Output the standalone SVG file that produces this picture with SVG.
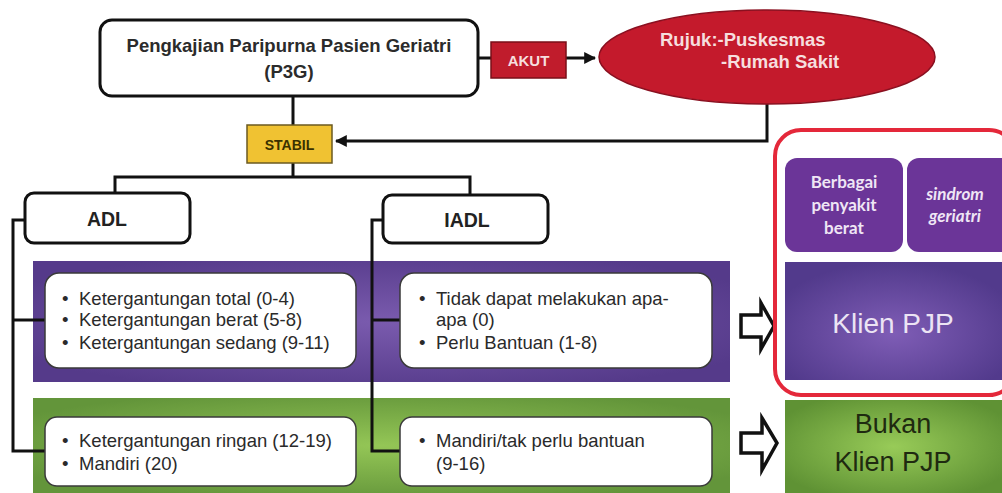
<svg xmlns="http://www.w3.org/2000/svg" width="1002" height="493" viewBox="0 0 1002 493">
<defs>
<style>
.ln{fill:none;stroke:#111;stroke-width:3}
.t{font-family:"Liberation Sans",Arial,sans-serif}
.b{font-weight:bold}
.item{font-family:"Liberation Sans",Arial,sans-serif;font-size:18.5px;fill:#2a2a2a}
.wbox{fill:#fff;stroke:#3a3a3a;stroke-width:1.5}
.cal{font-family:Lato,"Open Sans",sans-serif;font-size:17px;font-weight:bold;fill:#efe6f5;text-anchor:middle}
.harrow{fill:#fff;stroke:#111;stroke-width:3.5;stroke-linejoin:miter}
</style>
<marker id="ah" viewBox="0 0 10 10" refX="9" refY="5" markerWidth="4" markerHeight="4" orient="auto"><path d="M0,0L10,5L0,10z" fill="#111"/></marker>
<radialGradient id="pg" cx="50%" cy="50%" r="60%"><stop offset="0" stop-color="#7a5bae"/><stop offset="1" stop-color="#553a8a"/></radialGradient>
<radialGradient id="gg" cx="50%" cy="50%" r="60%"><stop offset="0" stop-color="#94c656"/><stop offset="1" stop-color="#63953a"/></radialGradient>
<radialGradient id="kg" cx="50%" cy="60%" r="60%"><stop offset="0" stop-color="#7f5db6"/><stop offset="1" stop-color="#523a8c"/></radialGradient>
<radialGradient id="bg" cx="50%" cy="50%" r="60%"><stop offset="0" stop-color="#98cb58"/><stop offset="1" stop-color="#5f9234"/></radialGradient>
</defs>
<rect width="1002" height="493" fill="#fff"/>

<g id="band-purple"><rect x="33" y="261" width="697" height="121" fill="url(#pg)"/></g>
<g id="band-green"><rect x="33" y="398" width="697" height="95" fill="url(#gg)"/></g>

<g id="connectors">
<path class="ln" d="M478,58H491"/>
<path class="ln" d="M566,58H595" marker-end="url(#ah)"/>
<path class="ln" d="M767,103V141H336" marker-end="url(#ah)"/>
<path class="ln" d="M293,96V125"/>
<path class="ln" d="M293,163V177"/>
<path class="ln" d="M115,193V177H470V195"/>
<path class="ln" d="M25,220H13V451H45"/>
<path class="ln" d="M13,320H45"/>
<path class="ln" d="M383,220H372V451H400"/>
<path class="ln" d="M372,320H400"/>
</g>

<g id="p3g">
<rect x="100" y="20" width="378" height="76" rx="12" fill="#fff" stroke="#111" stroke-width="3"/>
<text class="t b" x="289" y="52" font-size="18.5" fill="#2b2b2b" text-anchor="middle">Pengkajian Paripurna Pasien Geriatri</text>
<text class="t b" x="289" y="78" font-size="18.5" fill="#2b2b2b" text-anchor="middle">(P3G)</text>
</g>

<g id="akut">
<rect x="491" y="42" width="75" height="36" fill="#c01c2c" stroke="#7a0f18" stroke-width="1.5"/>
<text class="t b" x="528.5" y="66" font-size="15" fill="#f6dede" text-anchor="middle">AKUT</text>
</g>

<g id="rujuk">
<ellipse cx="767" cy="57" rx="168" ry="47" fill="#c41a2c" stroke="#8a1020" stroke-width="1.5"/>
<text class="t b" x="660" y="46" font-size="18.5" fill="#f6dede">Rujuk:-Puskesmas</text>
<text class="t b" x="721" y="68" font-size="18.5" fill="#f6dede">-Rumah Sakit</text>
</g>

<g id="stabil">
<rect x="247" y="125" width="85" height="38" fill="#f0c232" stroke="#6b5a20" stroke-width="1.5"/>
<text class="t b" x="289.5" y="150" font-size="14" fill="#3a3000" text-anchor="middle">STABIL</text>
</g>

<g id="adl">
<rect x="25" y="193" width="165" height="50" rx="9" fill="#fff" stroke="#111" stroke-width="3"/>
<text class="t b" x="107" y="226" font-size="19.5" fill="#222" text-anchor="middle">ADL</text>
</g>
<g id="iadl">
<rect x="383" y="195" width="165" height="48" rx="9" fill="#fff" stroke="#111" stroke-width="3"/>
<text class="t b" x="467" y="227" font-size="19.5" fill="#222" text-anchor="middle">IADL</text>
</g>

<g id="adl-berat">
<rect class="wbox" x="45" y="273" width="311" height="95" rx="14"/>
<text class="item" x="62" y="305">•</text><text class="item" x="79" y="305">Ketergantungan total (0-4)</text>
<text class="item" x="62" y="326">•</text><text class="item" x="79" y="326">Ketergantungan berat (5-8)</text>
<text class="item" x="62" y="349">•</text><text class="item" x="79" y="349">Ketergantungan sedang (9-11)</text>
</g>
<g id="iadl-berat">
<rect class="wbox" x="400" y="273" width="312" height="95" rx="14"/>
<text class="item" x="419" y="305">•</text><text class="item" x="436" y="305">Tidak dapat melakukan apa-</text>
<text class="item" x="436" y="326">apa (0)</text>
<text class="item" x="419" y="349">•</text><text class="item" x="436" y="349">Perlu Bantuan (1-8)</text>
</g>
<g id="adl-ringan">
<rect class="wbox" x="45" y="417" width="311" height="69" rx="12"/>
<text class="item" x="62" y="447">•</text><text class="item" x="79" y="447">Ketergantungan ringan (12-19)</text>
<text class="item" x="62" y="470">•</text><text class="item" x="79" y="470">Mandiri (20)</text>
</g>
<g id="iadl-ringan">
<rect class="wbox" x="400" y="417" width="312" height="69" rx="12"/>
<text class="item" x="419" y="447">•</text><text class="item" x="436" y="447">Mandiri/tak perlu bantuan</text>
<text class="item" x="436" y="470">(9-16)</text>
</g>

<g id="arrow1"><path class="harrow" d="M741,315H761V303L774,326L761,349V337H741Z"/></g>
<g id="arrow2"><path class="harrow" d="M741,433H762V418L777,443L762,470V453H741Z"/></g>

<g id="klien-group">
<rect x="775" y="130" width="240" height="265" rx="26" fill="none" stroke="#e4283a" stroke-width="4"/>
</g>
<g id="berbagai">
<rect x="785" y="158" width="118" height="94" rx="12" fill="#6b3598"/>
<text class="cal" x="844" y="188">Berbagai</text>
<text class="cal" x="844" y="211">penyakit</text>
<text class="cal" x="844" y="234">berat</text>
</g>
<g id="sindrom">
<rect x="907" y="158" width="110" height="94" rx="12" fill="#6b3598"/>
<text class="cal" x="955" y="200" font-style="italic">sindrom</text>
<text class="cal" x="955" y="222" font-style="italic">geriatri</text>
</g>
<g id="klien">
<rect x="785" y="262" width="217" height="118" fill="url(#kg)"/>
<text class="t" x="893" y="333" font-size="28" fill="#ece4f4" text-anchor="middle">Klien PJP</text>
</g>
<g id="bukan">
<rect x="785" y="400" width="217" height="93" fill="url(#bg)"/>
<text class="t" x="893" y="433" font-size="27" fill="#1f2a10" text-anchor="middle">Bukan</text>
<text class="t" x="893" y="471" font-size="27" fill="#1f2a10" text-anchor="middle">Klien PJP</text>
</g>
</svg>
